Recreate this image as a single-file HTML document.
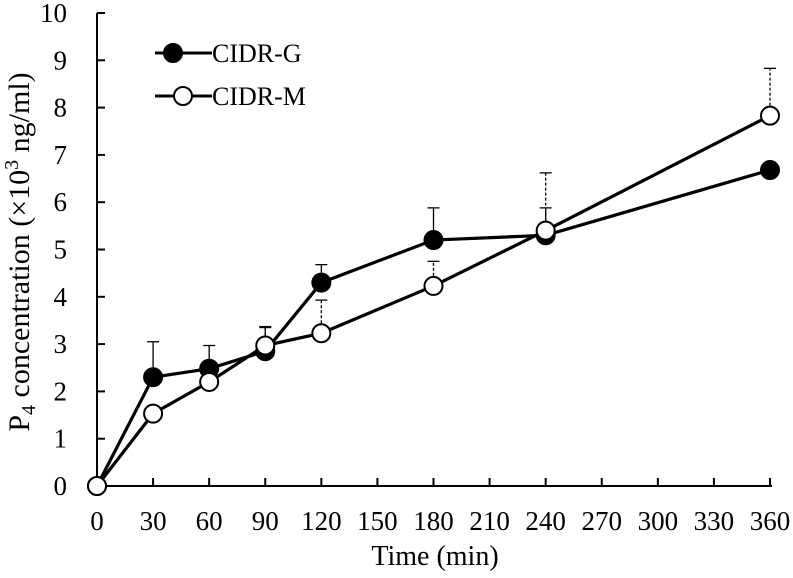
<!DOCTYPE html>
<html><head><meta charset="utf-8"><style>
html,body{margin:0;padding:0;background:#fff}
svg{display:block;font-family:"Liberation Serif",serif}
</style></head><body>
<svg id="chart" width="793" height="578">
<g id="axes"></g>
<g id="series"></g>
<g id="legend">
  <line x1="155" y1="53" x2="212" y2="53" stroke="#000" stroke-width="3"/>
  <circle cx="173" cy="53" r="9" fill="#000" stroke="#000" stroke-width="2"/>
  <text x="212" y="62" font-size="26">CIDR-G</text>
  <line x1="155" y1="96" x2="212" y2="96" stroke="#000" stroke-width="3"/>
  <circle cx="183" cy="96" r="9" fill="#fff" stroke="#000" stroke-width="2"/>
  <text x="212" y="105" font-size="26">CIDR-M</text>
</g>
<text x="435" y="565" font-size="28" text-anchor="middle">Time (min)</text>
<text transform="translate(29,252) rotate(-90)" font-size="30" text-anchor="middle">P<tspan font-size="20" dy="6">4</tspan><tspan dy="-6"> concentration (×10</tspan><tspan font-size="20" dy="-11">3</tspan><tspan dy="11"> ng/ml)</tspan></text>
</svg>
<script>
const times = [0,30,60,90,120,180,240,360];
const cidrG = [0,2.3,2.48,2.85,4.3,5.2,5.3,6.68];
const cidrGErr = [0,0.75,0.49,0.5,0.38,0.68,0.58,0];
const cidrM = [0,1.53,2.2,2.97,3.23,4.23,5.4,7.83];
const cidrMErr = [0,0.15,0.05,0.4,0.7,0.52,1.22,1.0];
const xTicks = [0,30,60,90,120,150,180,210,240,270,300,330,360];
const yTicks = [0,1,2,3,4,5,6,7,8,9,10];
const NS='http://www.w3.org/2000/svg';
const X0=97,X1=770,Y0=486,Y1=13;
const xs=v=>X0+(v/360)*(X1-X0);
const ys=v=>Y0-(v/10)*(Y0-Y1);
function mk(tag,attrs,parent){const e=document.createElementNS(NS,tag);for(const k in attrs)e.setAttribute(k,attrs[k]);parent.appendChild(e);return e;}
const ax=document.getElementById('axes');
let e=mk('line',{x1:X0,y1:Y0,x2:X1+2,y2:Y0,stroke:'#000','stroke-width':2},ax);


e=mk('line',{x1:X0,y1:Y0,x2:X0,y2:Y1,stroke:'#000','stroke-width':2},ax);


xTicks.forEach(t=>{
  let l=mk('line',{x1:xs(t),y1:Y0,x2:xs(t),y2:Y0-8,stroke:'#000','stroke-width':2},ax);
  
  
  let tx=mk('text',{x:xs(t),y:530,'font-size':27,'text-anchor':'middle'},ax);
  tx.textContent=t;
  
  
});
yTicks.forEach(t=>{
  let l=mk('line',{x1:X0,y1:ys(t),x2:X0+8,y2:ys(t),stroke:'#000','stroke-width':2},ax);
  
  
  let tx=mk('text',{x:67,y:ys(t)+9,'font-size':27,'text-anchor':'end'},ax);
  tx.textContent=t;
  
  
});
const sg=document.getElementById('series');
function drawSeries(vals,errs,name,dash){
  const g=mk('g',{},sg);
  
  
  vals.forEach((v,i)=>{
    if(errs[i]<=0)return;
    const a={x1:xs(times[i]),y1:ys(v),x2:xs(times[i]),y2:ys(v+errs[i]),stroke:'#000','stroke-width':1.3};
    if(dash)a['stroke-dasharray']='3,2';
    let l=mk('line',a,g);
    
    
    let c=mk('line',{x1:xs(times[i])-6,y1:ys(v+errs[i]),x2:xs(times[i])+6,y2:ys(v+errs[i]),stroke:'#000','stroke-width':1.3},g);
    
    
  });
  let p=mk('polyline',{points:vals.map((v,i)=>xs(times[i])+','+ys(v)).join(' '),fill:'none',stroke:'#000','stroke-width':3.2},g);
  
  
  return g;
}
const gG=drawSeries(cidrG,cidrGErr,'cidr-g',false);
const gM=drawSeries(cidrM,cidrMErr,'cidr-m',true);
function drawPts(vals,g,name,fill){
  vals.forEach((v,i)=>{
    let c=mk('circle',{cx:xs(times[i]),cy:ys(v),r:9,fill:fill,stroke:'#000','stroke-width':2},g);
    
    
  });
}
drawPts(cidrG,gG,'cidr-g','#000');
drawPts(cidrM,gM,'cidr-m','#fff');
</script>
</body></html>
